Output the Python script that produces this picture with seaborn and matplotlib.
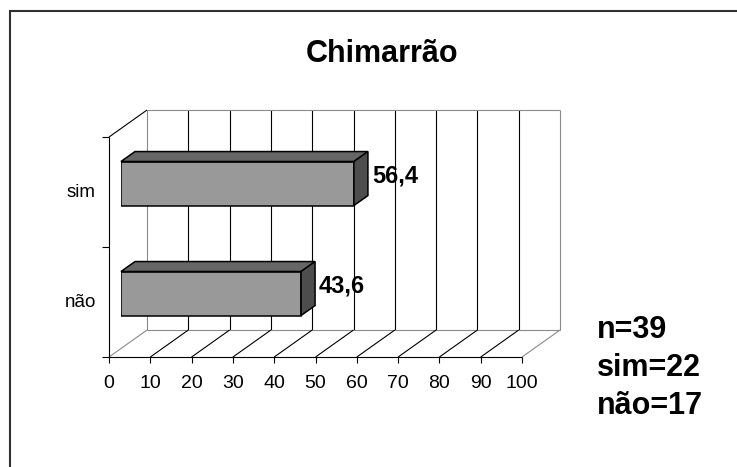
import numpy as np
import pandas as pd
import matplotlib
matplotlib.use("Agg")
import matplotlib.pyplot as plt
import seaborn as sns
from matplotlib import transforms as mtrans
from matplotlib.patches import Polygon, Rectangle
from matplotlib.lines import Line2D

# ---- data ----
categories = ["sim", "não"]
percent = [56.4, 43.6]
value_labels = ["56,4", "43,6"]
x_ticks = [0, 10, 20, 30, 40, 50, 60, 70, 80, 90, 100]
x_tick_labels = ["0", "10", "20", "30", "40", "50", "60", "70", "80", "90", "100"]
title = "Chimarrão"
counts_text = ["n=39", "sim=22", "não=17"]

sns.set_theme(style="white")
plt.rcParams["font.family"] = ["Liberation Sans", "DejaVu Sans"]

W, H = 737, 467
fig = plt.figure(figsize=(W / 100, H / 100), dpi=100)
fig.patch.set_facecolor("white")
# axes = plane of the bars' front faces
ax = fig.add_axes([121 / W, (H - 348.5) / H, 413 / W, 220 / H])
df = pd.DataFrame({"cat": categories, "pct": percent})
sns.barplot(data=df, x="pct", y="cat", orient="h", color="#999999",
            saturation=1, width=0.4, edgecolor="black", linewidth=1.1, ax=ax)
ax.set_xlim(0, 100)
ax.set_ylim(1.5, -0.5)
ax.set_axis_off()
for p in ax.patches:
    p.set_facecolor("#999999")
    p.set_zorder(3)
    p.set_joinstyle("miter")

ident = mtrans.IdentityTransform()
DEPTH = np.array([38.0, 27.0])     # front -> back offset in pixels
D0, D1 = 12 / 38, 26 / 38          # bar depth range

def P(x, y, d):
    return ax.transData.transform((x, y)) + (d - D0) * DEPTH

def seg(p, q, color, lw=0.8, z=1):
    ax.add_line(Line2D([p[0], q[0]], [p[1], q[1]], transform=ident, color=color,
                       lw=lw, zorder=z, clip_on=False, solid_capstyle="butt"))

GRAY = "#8a8a8a"
y_top, y_bot = -0.5, 1.5
xmin, xmax = x_ticks[0], x_ticks[-1]

# back wall
for t in x_ticks:
    c = "black" if xmin < t < xmax else GRAY
    seg(P(t, y_bot, 1), P(t, y_top, 1), c)
seg(P(xmin, y_top, 1), P(xmax, y_top, 1), GRAY)
seg(P(xmin, y_bot, 1), P(xmax, y_bot, 1), GRAY)
# floor
for t in x_ticks:
    c = "black" if xmin < t < xmax else GRAY
    seg(P(t, y_bot, 0), P(t, y_bot, 1), c)
# left wall
seg(P(xmin, y_top, 0), P(xmin, y_top, 1), "black")
seg(P(xmin, y_top, 0), P(xmin, y_bot, 0), "black")
seg(P(xmin, y_bot, 0), P(xmax, y_bot, 0), "black")
# ticks
for t in x_ticks:
    a = P(t, y_bot, 0)
    seg(a, a + np.array([0, -6]), "black")
for yv in [-0.5, 0.5, 1.5]:
    a = P(xmin, yv, 0)
    seg(a, a + np.array([-7, 0]), "black")

# bar 3D faces
for p, lab in zip(ax.patches, value_labels):
    x0, w = p.get_x(), p.get_width()
    yb, h = p.get_y(), p.get_height()
    yu, yd = min(yb, yb + h), max(yb, yb + h)
    top = [P(x0, yu, D0), P(x0 + w, yu, D0), P(x0 + w, yu, D1), P(x0, yu, D1)]
    side = [P(x0 + w, yu, D0), P(x0 + w, yd, D0), P(x0 + w, yd, D1), P(x0 + w, yu, D1)]
    for pts, fc in [(top, "#666666"), (side, "#4d4d4d")]:
        ax.add_patch(Polygon(pts, closed=True, transform=ident, facecolor=fc,
                             edgecolor="black", lw=1.1, zorder=4, clip_on=False,
                             joinstyle="miter"))
    yc = (yu + yd) / 2
    tx = P(x0 + w, yc, D1)[0] + 4
    ty = P(x0 + w, yc, D0)[1] + 1
    ax.text(tx, ty, lab, transform=ident, ha="left", va="baseline",
            fontsize=17, fontweight="bold", color="black", zorder=5)

# category labels
for i, cat in enumerate(categories):
    a = P(xmin, i, 0)
    ax.text(a[0] - 13, a[1], cat, transform=ident, ha="right", va="center",
            fontsize=13.5, color="black")

# x tick labels
for t, lab in zip(x_ticks, x_tick_labels):
    a = P(t, y_bot, 0)
    ax.text(a[0], a[1] - 31, lab, transform=ident, ha="center", va="baseline",
            fontsize=14, color="black")

# title
fig.text(382 / W, 1 - 62 / H, title, ha="center", va="baseline",
         fontsize=22, fontweight="bold", color="black")

# counts
for k, s in enumerate(counts_text):
    fig.text(597 / W, 1 - (338 + 38 * k) / H, s, ha="left", va="baseline",
             fontsize=22, fontweight="bold", color="black")

# outer border
fig.add_artist(Rectangle((9.5, -10), 800, H - 11 + 10, transform=ident,
                         fill=False, edgecolor="#303030", lw=1.5))

fig.savefig("out.png", dpi=100)
